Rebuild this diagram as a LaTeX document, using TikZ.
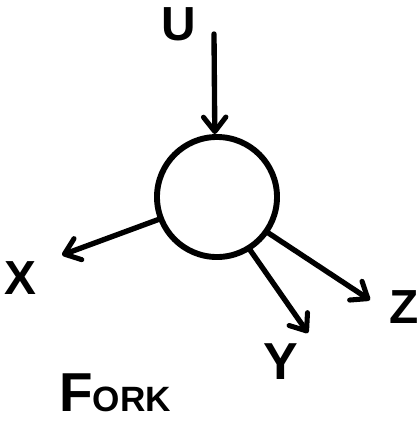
\documentclass[tikz,border=0pt]{standalone}
\usepackage{fontspec}
\setmainfont{Liberation Sans}
\usetikzlibrary{arrows.meta, positioning, calc}

\begin{document}
\begin{tikzpicture}[
    x=0.025cm, y=-0.025cm,
    % Hand drawn look: thick round strokes, open barbed tips
    junc/.style={circle, draw=black, line width=4.2pt, minimum size=3cm, inner sep=0pt},
    arr/.style={line width=3.8pt, line cap=round, line join=round, -{Straight Barb[length=3.6mm,width=5.6mm,line width=3.6pt,round]}},
    lbl/.style={font=\bfseries\fontsize{34}{34}\selectfont, inner sep=0pt}
]
\useasboundingbox (0,0) rectangle (420,423);

% ===============================
% Central variable
% ===============================
\node[junc] (c) at (217,197) {};

% Labels
\node[lbl] (u) at (179,24) {U};
\node[lbl] (x) at (20,278) {X};
\node[lbl, font=\bfseries\fontsize{37}{37}\selectfont] (y) at (281,362) {Y};
\node[lbl] (z) at (404,307) {Z};
\node[font=\bfseries\fontsize{39}{39}\selectfont, inner sep=0pt] (fork) at (115,393) {F{\fontsize{25}{25}\selectfont ORK}};

% Arrow ends
\coordinate (utail) at (214,34);
\coordinate (xtip) at (62,255);
\coordinate (ytip) at (308,333);
\coordinate (ztip) at (370,300);

% Fork arrows
\draw[arr] (utail) -- (c.92);
\draw[arr] (c.201) -- (xtip);
\draw[arr] (c.-58) -- (ytip);
\draw[arr] (c.-35) -- (ztip);

\end{tikzpicture}
\end{document}
